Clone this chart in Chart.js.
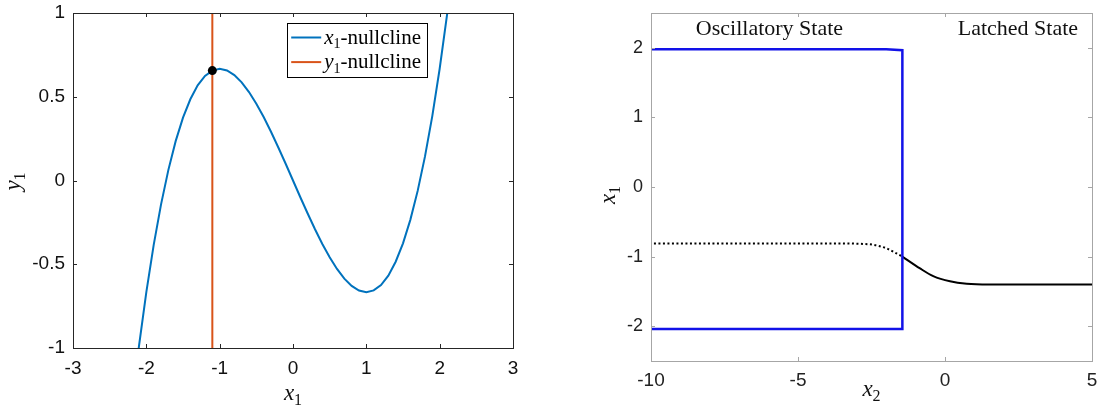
<!DOCTYPE html>
<html>
<head>
<meta charset="utf-8">
<script src="https://cdn.jsdelivr.net/npm/chart.js@4.4.0/dist/chart.umd.min.js"></script>
<style>
  html, body { margin: 0; padding: 0; background: #fff; }
  .panel { position: absolute; top: 0; height: 407px; }
  #wrapL { left: 0; width: 540px; }
  #wrapR { left: 560px; width: 539px; }
</style>
</head>
<body>
<div class="panel" id="wrapL"><canvas id="left" width="540" height="407"></canvas></div>
<div class="panel" id="wrapR"><canvas id="right" width="539" height="407"></canvas></div>
<script>
// left panel: nullclines of the fast subsystem
const cubicX = [-2.2, -2.1, -2.0, -1.9, -1.8, -1.7, -1.6, -1.5, -1.4, -1.3, -1.2, -1.1, -1.0,
  -0.9, -0.8, -0.7, -0.6, -0.5, -0.4, -0.3, -0.2, -0.1, 0,
  0.1, 0.2, 0.3, 0.4, 0.5, 0.6, 0.7, 0.8, 0.9, 1.0, 1.1, 1.2, 1.3, 1.4, 1.5, 1.6, 1.7, 1.8, 1.9, 2.0, 2.1, 2.2];
const cubicY = [-1.349, -0.987, -0.667, -0.386, -0.144, 0.062, 0.235, 0.375, 0.485, 0.568, 0.624, 0.656, 0.667,
  0.657, 0.629, 0.586, 0.528, 0.458, 0.379, 0.291, 0.197, 0.100, 0,
  -0.100, -0.197, -0.291, -0.379, -0.458, -0.528, -0.586, -0.629, -0.657, -0.667, -0.656, -0.624, -0.568, -0.485, -0.375, -0.235, -0.062, 0.144, 0.386, 0.667, 0.987, 1.349];
const yNullX = [-1.1, -1.1];
const yNullY = [-1, 1];
const eqX = [-1.1];
const eqY = [0.656];
const leftXTicks = [-3, -2, -1, 0, 1, 2, 3];
const leftYTicks = [-1, -0.5, 0, 0.5, 1];

// right panel: bifurcation diagram in x2
const oscX = [-10, -2, -1.45, -1.45, -10];
const oscY = [1.98, 1.98, 1.965, -2.04, -2.04];
const unstableX = [-9.9, -5, -3.5, -3, -2.45, -2, -1.45];
const unstableY = [-0.81, -0.81, -0.81, -0.815, -0.83, -0.88, -1.0];
const stableX = [-1.45, -0.85, -0.4, 0.17, 0.74, 1.5, 5];
const stableY = [-1.0, -1.17, -1.28, -1.355, -1.39, -1.40, -1.40];
const rightXTicks = [-10, -5, 0, 5];
const rightYTicks = [-2, -1, 0, 1, 2];
const stateNames = ['Oscillatory State', 'Latched State'];

const SERIF = '"Liberation Serif", "DejaVu Serif", serif';
const SANS = '"Liberation Sans", Arial, sans-serif';

const pts = (xs, ys) => xs.map((x, i) => ({ x, y: ys[i] }));

// "x_1-nullcline" -> italic x, subscript 1, rest upright
function richParts(s) {
  const m = /^([a-z])_(\d)(.*)$/.exec(s);
  if (!m) return [{ t: s }];
  return [{ t: m[1], it: true }, { t: m[2], sub: true }, { t: m[3] }];
}

function drawRich(ctx, s, x, y, size, align) {
  const parts = richParts(s);
  const fontOf = p => (p.it ? 'italic ' : '') + Math.round(p.sub ? size * 0.68 : size) + 'px ' + SERIF;
  let w = 0;
  for (const p of parts) { ctx.font = fontOf(p); p.w = ctx.measureText(p.t).width; w += p.w; }
  let cx = align === 'center' ? x - w / 2 : x;
  ctx.textAlign = 'left';
  ctx.textBaseline = 'alphabetic';
  for (const p of parts) {
    ctx.font = fontOf(p);
    ctx.fillText(p.t, cx, y + (p.sub ? size * 0.2 : 0));
    cx += p.w;
  }
  return w;
}

function richWidth(ctx, s, size) {
  let w = 0;
  for (const p of richParts(s)) {
    ctx.font = (p.it ? 'italic ' : '') + Math.round(p.sub ? size * 0.68 : size) + 'px ' + SERIF;
    w += ctx.measureText(p.t).width;
  }
  return w;
}

// box, inward ticks, axis titles, legend, text notes
const framePlugin = {
  id: 'frame',
  afterDatasetsDraw(chart, args, o) {
    const { ctx, chartArea: a, scales } = chart;
    ctx.save();
    ctx.strokeStyle = o.color;
    ctx.lineWidth = 1;
    ctx.beginPath();
    for (const t of scales.x.ticks) {
      const px = Math.round(scales.x.getPixelForValue(t.value)) + 0.5;
      ctx.moveTo(px, a.bottom); ctx.lineTo(px, a.bottom - o.tick);
      ctx.moveTo(px, a.top); ctx.lineTo(px, a.top + o.tick);
    }
    for (const t of scales.y.ticks) {
      const py = Math.round(scales.y.getPixelForValue(t.value)) + 0.5;
      ctx.moveTo(a.left, py); ctx.lineTo(a.left + o.tick, py);
      ctx.moveTo(a.right, py); ctx.lineTo(a.right - o.tick, py);
    }
    ctx.stroke();
    ctx.strokeRect(Math.round(a.left) + 0.5, Math.round(a.top) + 0.5, Math.round(a.width), Math.round(a.height));

    // axis titles
    ctx.fillStyle = '#111';
    drawRich(ctx, o.xTitle, (a.left + a.right) / 2, a.bottom + o.xTitleDrop, o.titleSize, 'center');
    ctx.save();
    ctx.translate(a.left - o.yTitleGap, (a.top + a.bottom) / 2 + o.yTitleShift);
    ctx.rotate(-Math.PI / 2);
    drawRich(ctx, o.yTitle, 0, 0, o.titleSize, 'center');
    ctx.restore();

    // text notes placed in data coordinates
    for (const n of o.notes || []) {
      ctx.font = o.noteSize + 'px ' + SERIF;
      ctx.textAlign = 'center';
      ctx.textBaseline = 'middle';
      ctx.fillText(n.text, scales.x.getPixelForValue(n.x), scales.y.getPixelForValue(n.y));
    }

    // legend box
    if (o.legend) {
      const L = o.legend;
      const items = chart.data.datasets.filter(d => d.label);
      let tw = 0;
      for (const d of items) tw = Math.max(tw, richWidth(ctx, d.label, L.size));
      const bw = L.textX + tw + 6;
      const right = a.right - L.rightGap;
      const left = right - bw;
      const top = a.top + L.topGap;
      ctx.fillStyle = '#fff';
      ctx.fillRect(left, top, bw, L.height);
      ctx.strokeStyle = '#000';
      ctx.strokeRect(Math.round(left) + 0.5, Math.round(top) + 0.5, Math.round(bw), L.height);
      items.forEach((d, i) => {
        const y = top + L.row0 + i * L.rowStep;
        ctx.strokeStyle = d.borderColor;
        ctx.lineWidth = 2;
        ctx.beginPath();
        ctx.moveTo(left + 4, y); ctx.lineTo(left + L.lineEnd, y);
        ctx.stroke();
        ctx.fillStyle = '#000';
        drawRich(ctx, d.label, left + L.textX, y + L.size * 0.3, L.size, 'left');
      });
    }
    ctx.restore();
  }
};

function fixedTicks(list) {
  return scale => { scale.ticks = list.map(v => ({ value: v })); };
}
const plainLabel = v => String(v);

new Chart(document.getElementById('left'), {
  type: 'scatter',
  data: {
    datasets: [
      { label: 'x_1-nullcline', data: pts(cubicX, cubicY), showLine: true, borderColor: '#0072BD',
        borderWidth: 2, pointRadius: 0, tension: 0, order: 3 },
      { label: 'y_1-nullcline', data: pts(yNullX, yNullY), showLine: true, borderColor: '#D95319',
        borderWidth: 2, pointRadius: 0, order: 2 },
      { data: pts(eqX, eqY), backgroundColor: '#000', borderColor: '#000', pointRadius: 4.5,
        pointBorderWidth: 0, order: 1 }
    ]
  },
  options: {
    responsive: false,
    animation: false,
    devicePixelRatio: 1,
    layout: { padding: { top: 13, right: 27, left: 0, bottom: 0 } },
    plugins: {
      legend: { display: false },
      tooltip: { enabled: false },
      frame: {
        color: '#262626', tick: 4, titleSize: 23,
        xTitle: 'x_1', xTitleDrop: 52,
        yTitle: 'y_1', yTitleGap: 53, yTitleShift: 1,
        legend: { size: 21, rightGap: 86, topGap: 10, height: 54, row0: 14.5, rowStep: 24.6, lineEnd: 34, textX: 37 }
      }
    },
    scales: {
      x: {
        type: 'linear', min: -3, max: 3,
        afterBuildTicks: fixedTicks(leftXTicks),
        afterFit: s => { s.height = 59; s.paddingLeft = 0; s.paddingRight = 0; },
        grid: { display: false, drawTicks: false }, border: { display: false },
        ticks: { padding: 9, color: '#111', font: { family: SANS, size: 19 }, callback: plainLabel }
      },
      y: {
        type: 'linear', min: -1, max: 1,
        afterBuildTicks: fixedTicks(leftYTicks),
        afterFit: s => { s.width = 73; s.paddingTop = 0; s.paddingBottom = 0; },
        grid: { display: false, drawTicks: false }, border: { display: false },
        ticks: { padding: 8, color: '#111', font: { family: SANS, size: 19 }, callback: plainLabel }
      }
    }
  },
  plugins: [framePlugin]
});

new Chart(document.getElementById('right'), {
  type: 'scatter',
  data: {
    datasets: [
      { data: pts(oscX, oscY), showLine: true, borderColor: '#1212e8', borderWidth: 2.5,
        pointRadius: 0, tension: 0, order: 1 },
      { data: pts(unstableX, unstableY), showLine: true, borderColor: '#000', borderWidth: 2,
        borderDash: [2, 2.5], pointRadius: 0, cubicInterpolationMode: 'monotone', order: 2 },
      { data: pts(stableX, stableY), showLine: true, borderColor: '#000', borderWidth: 2,
        pointRadius: 0, cubicInterpolationMode: 'monotone', order: 2 }
    ]
  },
  options: {
    responsive: false,
    animation: false,
    devicePixelRatio: 1,
    layout: { padding: { top: 13, right: 7, left: 0, bottom: 0 } },
    plugins: {
      legend: { display: false },
      tooltip: { enabled: false },
      frame: {
        color: '#a6a6a6', tick: 4, titleSize: 23,
        xTitle: 'x_2', xTitleDrop: 35,
        yTitle: 'x_1', yTitleGap: 36, yTitleShift: 8,
        noteSize: 22,
        notes: [
          { text: stateNames[0], x: -5.97, y: 2.27 },
          { text: stateNames[1], x: 2.48, y: 2.27 }
        ]
      }
    },
    scales: {
      x: {
        type: 'linear', min: -10, max: 5,
        afterBuildTicks: fixedTicks(rightXTicks),
        afterFit: s => { s.height = 46; s.paddingLeft = 0; s.paddingRight = 0; },
        grid: { display: false, drawTicks: false }, border: { display: false },
        ticks: { padding: 8, color: '#222', font: { family: SANS, size: 19 }, callback: plainLabel }
      },
      y: {
        type: 'linear', min: -2.5, max: 2.5,
        afterBuildTicks: fixedTicks(rightYTicks),
        afterFit: s => { s.width = 91; s.paddingTop = 0; s.paddingBottom = 0; },
        grid: { display: false, drawTicks: false }, border: { display: false },
        ticks: { padding: 8, color: '#222', font: { family: SANS, size: 18 }, callback: plainLabel }
      }
    }
  },
  plugins: [framePlugin]
});
</script>
</body>
</html>
